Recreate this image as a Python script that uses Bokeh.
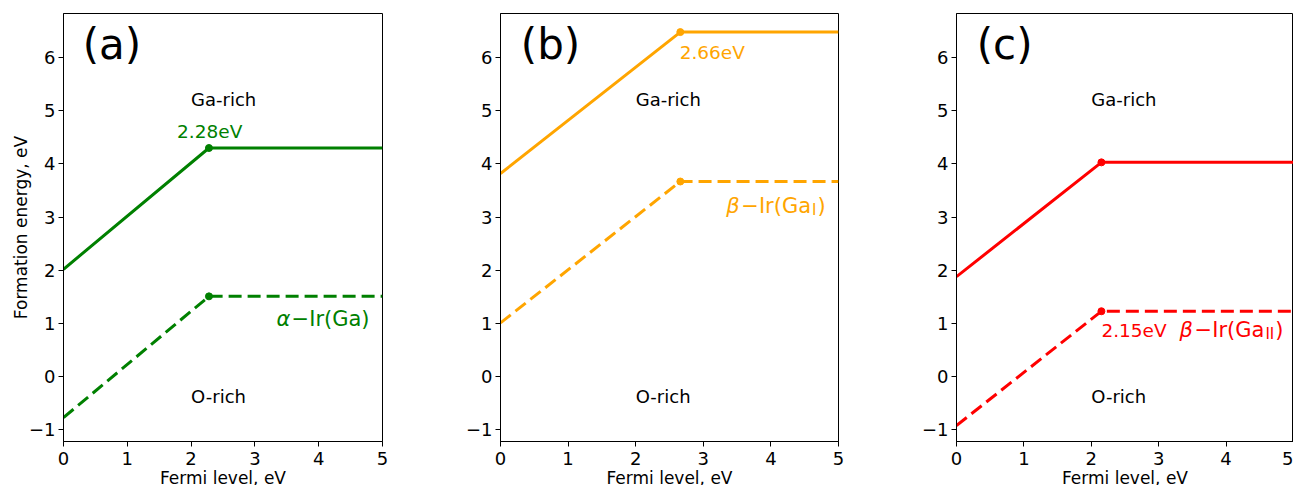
from bokeh.plotting import figure
from bokeh.layouts import row
from bokeh.models import Range1d, FixedTicker
from bokeh.core.properties import value
from bokeh.embed import file_html
from bokeh.resources import INLINE

FONT = "DejaVu Sans"

# ---- data ----
a_fermi = [0.0, 2.28, 5.0]
a_ga_rich = [2.02, 4.30, 4.30]
a_o_rich = [-0.77, 1.51, 1.51]

b_fermi = [0.0, 2.66, 5.0]
b_ga_rich = [3.82, 6.48, 6.48]
b_o_rich = [1.01, 3.67, 3.67]

c_fermi = [0.0, 2.15, 5.0]
c_ga_rich = [1.88, 4.03, 4.03]
c_o_rich = [-0.92, 1.23, 1.23]

panel_tags = ["(a)", "(b)", "(c)"]
knee_labels = ["2.28eV", "2.66eV", "2.15eV"]
defect_greek = ["α", "β", "β"]
defect_body = ["−Ir(Ga)", "−Ir(Ga", "−Ir(Ga"]
defect_sub = ["", "I", "II"]
defect_close = ["", ")", ")"]
colors = ["green", "orange", "red"]
x_ticks = [0, 1, 2, 3, 4, 5]
y_ticks = [-1, 0, 1, 2, 3, 4, 5, 6]

# ---- layout / style (not data) ----
tag_pos = (0.3, 6.24)
ga_rich_pos = (2.0, 5.22)
o_rich_pos = (2.0, -0.37)
knee_pos = [(1.78, 4.61), (2.65, 6.10), (2.15, 0.87)]
defect_pos = [(3.34, 1.08), (3.34, 3.20), (3.31, 0.87)]
borders = [(63, 319, 10), (108, 338, 10), (108, 337, 0)]

LBL = 21  # defect label font px
SUB = 15
BODY_W = 3.323 * LBL  # advance of "−Ir(Ga" in DejaVu Sans


def make_panel(i, xs, ga, orich):
    left, fw, right = borders[i]
    col = colors[i]
    p = figure(frame_width=fw, frame_height=428,
               min_border_left=left, min_border_right=right,
               min_border_top=13, min_border_bottom=36,
               x_range=Range1d(0, 5), y_range=Range1d(-1.22, 6.83),
               output_backend="svg", toolbar_location=None)
    p.grid.visible = False
    p.outline_line_color = "black"
    p.outline_line_width = 1
    p.background_fill_color = "white"
    p.border_fill_color = "white"
    for ax in (p.xaxis[0], p.yaxis[0]):
        ax.axis_line_color = "black"
        ax.major_tick_line_color = "black"
        ax.major_tick_out = 5
        ax.major_tick_in = 0
        ax.minor_tick_line_color = None
        ax.major_label_text_font = FONT
        ax.major_label_text_font_size = "18px"
        ax.major_label_text_color = "black"
        ax.axis_label_text_font = FONT
        ax.axis_label_text_font_size = "17px"
        ax.axis_label_text_font_style = "normal"
        ax.axis_label_text_color = "black"
    p.xaxis.ticker = FixedTicker(ticks=x_ticks)
    p.yaxis.ticker = FixedTicker(ticks=y_ticks)
    p.yaxis.major_label_overrides = {t: ("−%d" % -t if t < 0 else str(t)) for t in y_ticks}
    p.xaxis.major_label_standoff = 5
    p.xaxis.axis_label = "Fermi level, eV"
    p.xaxis.axis_label_standoff = 0
    p.yaxis.major_label_standoff = 3
    if i == 0:
        p.yaxis.axis_label = "Formation energy, eV"
        p.yaxis.axis_label_standoff = -5

    p.line(xs, ga, line_color=col, line_width=3)
    p.line(xs, orich, line_color=col, line_width=3, line_dash="13 6")
    p.scatter([xs[1]], [ga[1]], size=7, color=col)
    p.scatter([xs[1]], [orich[1]], size=7, color=col)

    common = dict(text_font=value(FONT), text_baseline="alphabetic", text_align="left")
    p.text([tag_pos[0]], [tag_pos[1]], text=[panel_tags[i]], text_font_size="42px",
           text_color="black", **common)
    p.text([ga_rich_pos[0]], [ga_rich_pos[1]], text=["Ga-rich"], text_font_size="18px",
           text_color="black", **common)
    p.text([o_rich_pos[0]], [o_rich_pos[1]], text=["O-rich"], text_font_size="18px",
           text_color="black", **common)
    kx, ky = knee_pos[i]
    p.text([kx], [ky], text=[knee_labels[i]], text_font_size="18.5px", text_color=col, **common)

    dx, dy = defect_pos[i]
    p.text([dx], [dy], text=[defect_greek[i]], text_font_size="%dpx" % LBL,
           text_font_style="italic", text_color=col, **common)
    off = 15
    p.text([dx], [dy], text=[defect_body[i]], text_font_size="%dpx" % LBL,
           text_color=col, x_offset=off, **common)
    if defect_sub[i]:
        so = off + BODY_W + 1
        p.text([dx], [dy], text=[defect_sub[i]], text_font_size="%dpx" % SUB,
               text_color=col, x_offset=so, y_offset=4, **common)
        sw = 0.295 * SUB * len(defect_sub[i]) + 1
        p.text([dx], [dy], text=[defect_close[i]], text_font_size="%dpx" % LBL,
               text_color=col, x_offset=so + sw, **common)
    return p


pa = make_panel(0, a_fermi, a_ga_rich, a_o_rich)
pb = make_panel(1, b_fermi, b_ga_rich, b_o_rich)
pc = make_panel(2, c_fermi, c_ga_rich, c_o_rich)

layout = row(pa, pb, pc, spacing=0)
open("out.html", "w").write(file_html(layout, INLINE))
